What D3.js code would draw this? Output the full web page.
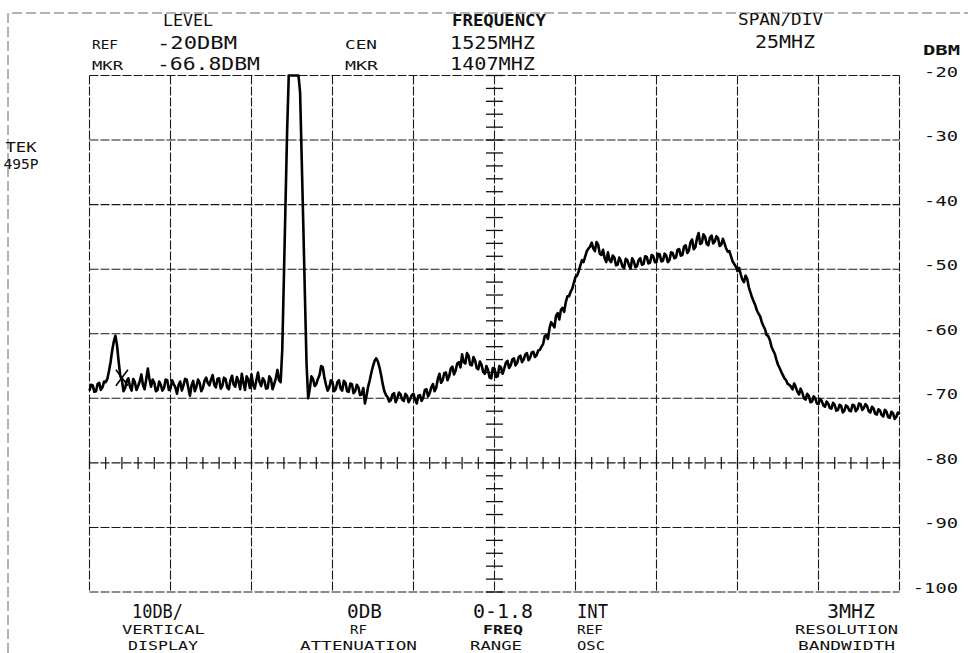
<!DOCTYPE html>
<html><head><meta charset="utf-8">
<script src="https://cdn.jsdelivr.net/npm/d3@7"></script>
<style>
html,body{margin:0;padding:0;background:#fff;}
svg{display:block;}
text{font-family:"DejaVu Sans Mono",monospace;fill:#111;}
</style>
</head><body>
<svg id="c" width="968" height="653"></svg>
<script>
// ---------------- data ----------------
const sweepStartMHz = 1400;
const sweepStepMHz = 1;          // whole-MHz sweep points
const halfOffsetMHz = 0.5;       // interleaved half-MHz sweep points
const freqDomainMHz = [1400, 1650];
const levelDomainDbm = [-100, -20];
// levels at 1400, 1401, ... 1650 MHz
const traceLevelsDbm = [
 -68.8,-68.0,-68.9,-67.6,-68.3,-67.5,-65.8,-62.6,-60.3,-64.3,
 -67.2,-68.4,-66.9,-68.8,-67.5,-68.1,-66.3,-68.6,-65.4,-68.2,
 -67.6,-68.7,-67.9,-68.4,-67.2,-68.5,-67.8,-69.3,-67.4,-68.0,
 -67.1,-69.6,-67.3,-68.2,-67.6,-68.4,-66.8,-68.0,-66.4,-68.3,
 -66.9,-68.1,-67.0,-68.6,-66.5,-68.2,-67.4,-66.2,-68.7,-67.1,
 -66.3,-68.5,-66.0,-68.1,-67.3,-68.4,-67.0,-67.8,-65.6,-67.5,
 -51.2,-28.5,-20,-20,-20,-22.6,-43.4,-64.8,-68.5,-67.0,
 -67.8,-66.4,-65.2,-67.9,-68.3,-67.5,-68.6,-67.2,-68.8,-67.6,
 -69.0,-67.8,-68.9,-68.3,-69.4,-70.8,-68.2,-66.0,-64.2,-64.3,
 -66.4,-68.9,-69.8,-70.3,-69.2,-70.0,-69.4,-70.4,-69.6,-70.1,
 -69.3,-70.8,-69.5,-69.9,-68.6,-69.2,-67.8,-68.4,-66.2,-67.2,
 -66.0,-66.6,-65.1,-65.7,-64.4,-63.2,-64.6,-63.4,-64.9,-64.1,
 -65.5,-64.8,-66.2,-65.6,-66.9,-65.4,-66.6,-65.2,-65.4,-64.2,
 -64.9,-63.8,-64.5,-63.4,-64.0,-63.0,-63.7,-62.8,-63.3,-62.5,
 -61.6,-60.2,-59.1,-58.6,-57.2,-57.8,-56.0,-55.1,-54.2,-53.0,
 -51.2,-50.3,-48.6,-48.0,-46.8,-45.9,-47.2,-46.2,-47.8,-48.3,
 -47.4,-48.9,-48.2,-49.3,-48.7,-49.8,-48.6,-49.9,-48.8,-49.5,
 -48.3,-49.2,-48.1,-49.0,-48.0,-48.9,-47.7,-48.7,-47.9,-48.6,
 -47.5,-48.2,-46.9,-47.8,-46.3,-47.1,-45.4,-46.6,-44.4,-45.9,
 -45.0,-46.3,-44.8,-45.7,-45.2,-46.2,-46.0,-47.3,-48.0,-49.2,
 -50.3,-50.8,-52.0,-51.5,-53.6,-55.0,-56.4,-57.3,-58.8,-60.2,
 -61.0,-62.6,-64.0,-65.3,-66.4,-67.2,-67.9,-68.6,-68.3,-69.4,
 -69.1,-70.2,-69.6,-70.5,-70.0,-70.9,-70.4,-71.3,-70.8,-71.6,
 -71.0,-71.8,-71.2,-71.9,-71.3,-72.0,-71.1,-71.7,-70.9,-71.5,
 -71.2,-72.2,-71.6,-72.5,-71.9,-72.8,-72.1,-73.0,-72.3,-72.9,
 -72.5
];
// levels at 1400.5, 1401.5, ... 1649.5 MHz
const traceHalfLevelsDbm = [
 -67.9,-69.0,-67.8,-68.7,-67.4,-67.0,-64.4,-61.2,-61.8,-66.5,
 -68.9,-67.3,-68.2,-67.0,-68.7,-67.4,-67.9,-67.1,-67.0,-67.1,
 -68.9,-67.4,-68.8,-67.1,-68.7,-67.2,-68.3,-67.9,-68.8,-67.0,
 -68.4,-68.0,-68.9,-67.1,-68.9,-67.3,-67.6,-67.1,-67.9,-67.0,
 -68.5,-66.8,-68.3,-67.2,-67.9,-66.7,-68.6,-67.6,-66.6,-68.4,
 -67.9,-67.2,-67.5,-66.9,-68.5,-66.6,-68.6,-66.9,-67.2,-62.4,
 -39.8,-20,-20,-20,-20,-33.0,-54.4,-70.0,-66.6,-68.1,
 -67.0,-65.0,-66.8,-68.8,-67.2,-68.9,-67.5,-68.5,-67.3,-68.9,
 -67.7,-69.2,-67.9,-69.5,-68.4,-69.6,-67.2,-65.0,-63.8,-65.2,
 -67.8,-69.5,-70.5,-69.4,-70.6,-69.1,-70.2,-69.3,-70.6,-69.5,
 -70.2,-69.6,-70.4,-68.7,-69.7,-68.3,-68.9,-67.0,-67.6,-66.1,
 -67.2,-65.4,-66.3,-64.6,-65.2,-64.4,-63.0,-64.8,-63.6,-65.3,
 -64.3,-65.9,-65.0,-66.8,-65.3,-66.7,-65.0,-66.2,-64.5,-65.3,
 -64.0,-64.9,-63.6,-64.4,-63.2,-64.1,-62.9,-63.6,-62.6,-62.0,
 -60.4,-60.8,-58.2,-59.0,-56.8,-56.3,-56.6,-54.2,-53.5,-52.1,
 -51.0,-49.4,-48.9,-47.2,-46.5,-46.8,-45.8,-47.6,-47.0,-48.9,
 -48.6,-47.9,-49.4,-48.2,-49.6,-48.4,-49.4,-48.3,-49.7,-48.6,
 -49.3,-48.0,-49.1,-47.8,-48.9,-47.6,-48.8,-47.6,-48.9,-47.4,
 -48.3,-47.0,-47.9,-46.5,-47.5,-45.8,-46.9,-45.2,-46.1,-44.6,
 -46.1,-45.1,-46.0,-44.9,-46.4,-45.3,-46.8,-47.2,-48.8,-49.6,
 -49.8,-51.6,-51.0,-52.8,-54.4,-55.6,-56.9,-58.2,-59.3,-60.4,
 -62.0,-63.1,-64.8,-65.9,-66.9,-67.8,-68.2,-67.7,-69.0,-68.5,
 -70.0,-69.3,-70.6,-69.7,-70.8,-70.1,-71.1,-70.5,-71.5,-70.7,
 -71.9,-71.0,-72.2,-71.1,-71.9,-71.0,-72.0,-70.8,-71.8,-70.9,
 -72.0,-71.3,-72.4,-71.7,-72.6,-71.8,-72.9,-72.1,-73.2,-72.2
];
const yTickValues = [-20,-30,-40,-50,-60,-70,-80,-90,-100];
const yTickLabels = ["-20","-30","-40","-50","-60","-70","-80","-90","-100"];
const freqGridMHz = [1400,1425,1450,1475,1500,1525,1550,1575,1600,1625,1650];
const centerFreqMHz = 1525;
const tickLineLevelDbm = -80;
const minorFreqStepMHz = 5;
const minorLevelStepDbm = 2;
const markerFreqMHz = 1410;
const markerLevelDbm = -66.8;

const headerTitles = ["LEVEL","FREQUENCY","SPAN/DIV"];
const refRow = ["REF","-20DBM","CEN","1525MHZ","25MHZ"];
const mkrRow = ["MKR","-66.8DBM","MKR","1407MHZ"];
const unitLabel = "DBM";
const instrumentLabel = ["TEK","495P"];
const footerValues = ["10DB/","0DB","0-1.8","INT","3MHZ"];
const footerNames1 = ["VERTICAL","RF","FREQ","REF","RESOLUTION"];
const footerNames2 = ["DISPLAY","ATTENUATION","RANGE","OSC","BANDWIDTH"];

// ---------------- drawing ----------------
const svg = d3.select("#c");
const L = 89.5, R = 899.5, T = 75.5, B = 592;
const x = d3.scaleLinear().domain(freqDomainMHz).range([L, R]);
const y = d3.scaleLinear().domain(levelDomainDbm).range([B, T]);

const gridStyle = s => s.attr("stroke", "#1a1a1a").attr("stroke-width", 1.1)
  .attr("stroke-dasharray", "9,2").attr("fill", "none");

// outer page frame
svg.append("path").attr("d", "M8,653 L8,13 L968,13")
  .attr("stroke", "#555").attr("stroke-width", 0.9)
  .attr("stroke-dasharray", "10,4").attr("fill", "none");

// graticule
const g = svg.append("g");
g.selectAll("line.v").data(freqGridMHz).join("line")
  .attr("x1", d => x(d)).attr("x2", d => x(d)).attr("y1", T).attr("y2", B).call(gridStyle);
g.selectAll("line.h").data(yTickValues).join("line")
  .attr("y1", d => y(d)).attr("y2", d => y(d)).attr("x1", L).attr("x2", R).call(gridStyle);

// minor ticks on centre vertical line
const minorLevels = d3.range(levelDomainDbm[0], levelDomainDbm[1] + 0.01, minorLevelStepDbm);
g.selectAll("line.mv").data(minorLevels).join("line")
  .attr("x1", x(centerFreqMHz) - 8.5).attr("x2", x(centerFreqMHz) + 8.5)
  .attr("y1", d => y(d)).attr("y2", d => y(d))
  .attr("stroke", "#111").attr("stroke-width", 1.3);
// minor ticks on -80 line
const minorFreqs = d3.range(freqDomainMHz[0], freqDomainMHz[1] + 0.01, minorFreqStepMHz);
g.selectAll("line.mh").data(minorFreqs).join("line")
  .attr("x1", d => x(d)).attr("x2", d => x(d))
  .attr("y1", y(tickLineLevelDbm) - 6).attr("y2", y(tickLineLevelDbm) + 6)
  .attr("stroke", "#111").attr("stroke-width", 1.2);

// trace: interleave whole-MHz and half-MHz sweep points
const pts = [];
traceLevelsDbm.forEach((v, i) => {
  pts.push([sweepStartMHz + i * sweepStepMHz, v]);
  if (i < traceHalfLevelsDbm.length)
    pts.push([sweepStartMHz + i * sweepStepMHz + halfOffsetMHz, traceHalfLevelsDbm[i]]);
});
svg.append("path").datum(pts)
  .attr("d", d3.line().x(d => x(d[0])).y(d => y(d[1])))
  .attr("fill", "none").attr("stroke", "#000").attr("stroke-width", 2.6)
  .attr("stroke-linejoin", "round");

// marker X
const mx = x(markerFreqMHz), my = y(markerLevelDbm);
svg.append("path")
  .attr("d", `M${mx-6},${my-8}L${mx+6},${my+8}M${mx+6},${my-8}L${mx-6},${my+8}`)
  .attr("stroke", "#000").attr("stroke-width", 1.6).attr("fill", "none");

// text helper
function txt(s, px, base, size, w, opts = {}) {
  const t = svg.append("text").text(s).attr("x", px).attr("y", base)
    .attr("font-size", size).attr("text-anchor", opts.anchor || "start");
  if (w) t.attr("textLength", w).attr("lengthAdjust", "spacingAndGlyphs");
  if (opts.bold) t.attr("font-weight", "bold");
  return t;
}

// header
txt(headerTitles[0], 163, 26, 16, 50);
txt(headerTitles[1], 452, 26, 16, 94, {bold: true});
txt(headerTitles[2], 738, 25, 16, 85);
txt(refRow[0], 92, 49, 13, 26);
txt(refRow[1], 157, 49, 18, 80);
txt(refRow[2], 345, 49, 13, 32);
txt(refRow[3], 450, 49, 18, 85);
txt(refRow[4], 755, 48, 18, 60);
txt(mkrRow[0], 92, 70, 13, 31);
txt(mkrRow[1], 157, 70, 18, 103);
txt(mkrRow[2], 345, 70, 13, 33);
txt(mkrRow[3], 450, 70, 18, 85);
txt(unitLabel, 923, 55, 14, 37, {bold: true});

// y labels
yTickValues.forEach((v, i) => {
  const s = yTickLabels[i];
  txt(s, 958, y(v) + 1, 14, s.length * 11.3, {anchor: "end"});
});

// instrument id
txt(instrumentLabel[0], 21, 152, 14, 31, {anchor: "middle"});
txt(instrumentLabel[1], 21, 169, 14, 35, {anchor: "middle"});

// footer
const fv = [[132, 51], [347, 35], [473, 60], [577, 31], [827, 48]];
footerValues.forEach((s, i) => txt(s, fv[i][0], 617.5, 19, fv[i][1]));
const f1 = [[122, 83], [350, 17], [483, 40], [577, 26], [795, 103]];
footerNames1.forEach((s, i) => txt(s, f1[i][0], 634, 12.8, f1[i][1], {bold: s === "FREQ"}));
const f2 = [[128, 70], [300, 117], [470, 52], [577, 28], [798, 97]];
footerNames2.forEach((s, i) => txt(s, f2[i][0], 650, 12.8, f2[i][1]));
</script>
</body></html>
